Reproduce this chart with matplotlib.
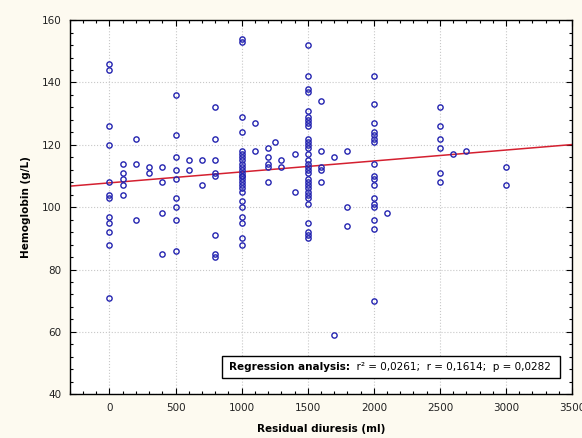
import numpy as np
import matplotlib
matplotlib.use("Agg")
import matplotlib.pyplot as plt
from matplotlib.patches import Rectangle
from matplotlib.ticker import MultipleLocator

# Hemoglobin values, grouped by residual diuresis (ml)
hb_by_diuresis = {
    0: [146, 144, 126, 120, 108, 104, 103, 97, 95, 92, 88, 71],
    100: [114, 111, 109, 107, 104],
    200: [122, 114, 96],
    300: [113, 111],
    400: [113, 108, 98, 85],
    500: [136, 123, 116, 112, 109, 103, 100, 96, 86],
    600: [115, 112],
    700: [115, 107],
    800: [132, 122, 115, 111, 110, 91, 85, 84],
    1000: [154, 153, 129, 124, 118, 117, 116, 115, 114, 113, 112, 111, 110,
           110, 109, 108, 107, 106, 105, 102, 100, 97, 95, 90, 88],
    1100: [127, 118],
    1200: [119, 116, 114, 113, 108],
    1250: [121],
    1300: [115, 113],
    1400: [117, 105],
    1500: [152, 142, 138, 137, 131, 129, 128, 127, 126, 122, 121, 120, 119,
           117, 115, 114, 113, 112, 111, 109, 108, 107, 106, 105, 104, 103,
           101, 95, 92, 91, 90],
    1600: [134, 118, 113, 112, 108],
    1700: [116, 59],
    1800: [118, 100, 94],
    2000: [142, 133, 127, 124, 123, 122, 121, 114, 110, 109, 107, 103, 101,
           100, 96, 93, 70],
    2100: [98],
    2500: [132, 126, 122, 119, 111, 108],
    2600: [117],
    2700: [118],
    3000: [113, 107],
}

# fitted line
intercept = 107.8
slope = 0.00351

x_ticks = [0, 500, 1000, 1500, 2000, 2500, 3000, 3500]
y_ticks = [40, 60, 80, 100, 120, 140, 160]

diuresis = []
hemoglobin = []
for d, vals in hb_by_diuresis.items():
    diuresis += [d] * len(vals)
    hemoglobin += vals

bg = "#fdfaf0"
fig = plt.figure(figsize=(5.82, 4.38), dpi=100, facecolor=bg)
ax = fig.add_axes([0.120, 0.100, 0.863, 0.854])
ax.set_facecolor("white")

# punkty
ax.plot(diuresis, hemoglobin, linestyle="none", marker="o", markersize=3.8,
        markerfacecolor="none", markeredgecolor="#2424b0", markeredgewidth=1.0,
        zorder=3)

# linia regresji
xl = np.array([-300, 3500])
ax.plot(xl, intercept + slope * xl, color="#d42030", linewidth=1.1, zorder=2)

ax.set_xlim(-300, 3500)
ax.set_ylim(40, 160)
ax.set_xticks(x_ticks)
ax.set_yticks(y_ticks)
ax.xaxis.set_minor_locator(MultipleLocator(100))
ax.yaxis.set_minor_locator(MultipleLocator(4))
ax.tick_params(which="both", direction="in", top=True, right=True,
               labelsize=7.5, labelcolor="#222222", width=0.8)
ax.tick_params(which="major", length=4, pad=6)
ax.tick_params(which="minor", length=2)

ax.grid(True, which="major", linestyle=":", color="#c8c8c8", linewidth=0.8)
ax.set_axisbelow(True)
for s in ax.spines.values():
    s.set_linewidth(1.0)

ax.set_xlabel("Residual diuresis (ml)", fontsize=7.5, fontweight="bold",
              labelpad=8)
ax.set_ylabel("Hemoglobin (g/L)", fontsize=7.5, fontweight="bold",
              labelpad=8)

# ramka z wynikiem regresji
ax.add_patch(Rectangle((0.303, 0.043), 0.673, 0.059, transform=ax.transAxes,
                       facecolor="white", edgecolor="black", linewidth=1.0,
                       zorder=5))
t1 = ax.text(0.316, 0.0725, "Regression analysis:", transform=ax.transAxes,
             ha="left", va="center", fontsize=7.5, fontweight="bold", zorder=6)
ax.annotate("  r\u00b2 = 0,0261;  r = 0,1614;  p = 0,0282", xy=(1, 0),
            xycoords=t1, ha="left", va="bottom", fontsize=7.5, zorder=6)

plt.savefig("out.png", dpi=100, facecolor=bg)
